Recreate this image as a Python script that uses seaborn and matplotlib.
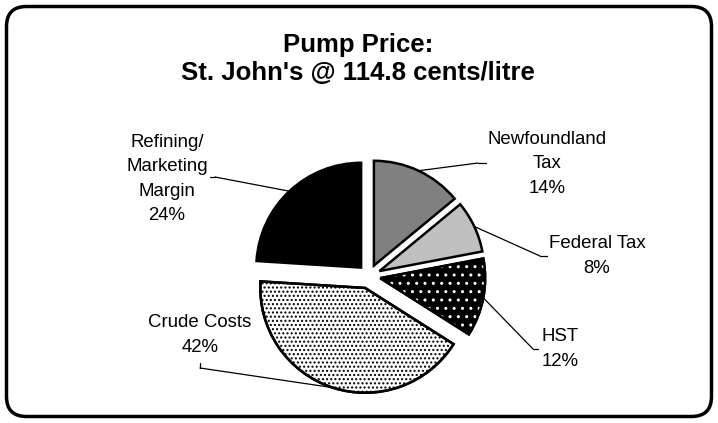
import numpy as np
import seaborn as sns
import matplotlib.pyplot as plt
from matplotlib.patches import Wedge, FancyBboxPatch
from matplotlib.lines import Line2D

# pump price breakdown, clockwise from 12 o'clock
labels = ["Newfoundland\nTax", "Federal Tax", "HST", "Crude Costs", "Refining/\nMarketing\nMargin"]
shares = [14, 8, 12, 42, 24]
face = ["#808080", "#c0c0c0", "black", "white", "black"]
dots = [None, None, "white", "black", None]
hatch = [None, None, "..", "....", None]

sns.set_style("white")
plt.rcParams["font.family"] = ["Liberation Sans", "DejaVu Sans"]
plt.rcParams["text.color"] = "black"

W, H = 718, 423
fig = plt.figure(figsize=(7.18, 4.23), dpi=100)


def fpx(x, y):
    # reference pixel (top-left origin) -> figure fraction
    return x / W, 1 - y / H


# pie axes, centre ~ (369, 276) px, radius ~100 px
S = 262
ax = fig.add_axes([(369 - S / 2) / W, (H - 276 - S / 2) / H, S / W, S / H])
ax.set_xlim(-1.3, 1.3)
ax.set_ylim(-1.3, 1.3)
ax.set_aspect("equal")
ax.axis("off")

explode = [0.11, 0.11, 0.11, 0.12, 0.11]
wedges, _ = ax.pie(shares, explode=explode, startangle=90, counterclock=False,
                   colors=face, wedgeprops=dict(edgecolor="black", linewidth=1.8))

for w, h, dc in zip(wedges, hatch, dots):
    if h is None:
        continue
    ax.add_patch(Wedge(w.center, w.r, w.theta1, w.theta2, facecolor="none",
                       edgecolor=dc, hatch=h, linewidth=0, zorder=3))
    ax.add_patch(Wedge(w.center, w.r, w.theta1, w.theta2, facecolor="none",
                       edgecolor="black", linewidth=1.8, zorder=4))

# label text centres and leader line ends (elbow, tick end) in px
text_pos = [(547, 164), (597, 256), (560, 349), (200, 335), (167, 179)]
elbows = [((478, 163), (486, 163)), ((540, 256), (547, 256)), ((533, 349), (538, 349)),
          ((200, 368), (200, 363)), ((215, 177), (210, 177))]

for w, lab, sh, tp, (e1, e2) in zip(wedges, labels, shares, text_pos, elbows):
    mid = np.deg2rad((w.theta1 + w.theta2) / 2)
    pt = (w.center[0] + w.r * np.cos(mid), w.center[1] + w.r * np.sin(mid))
    ax.annotate("", xy=pt, xycoords="data", xytext=fpx(*e1), textcoords="figure fraction",
                arrowprops=dict(arrowstyle="-", color="black", lw=0.9, shrinkA=0, shrinkB=0))
    fig.add_artist(Line2D([fpx(*e1)[0], fpx(*e2)[0]], [fpx(*e1)[1], fpx(*e2)[1]],
                          transform=fig.transFigure, color="black", lw=0.9))
    fig.text(*fpx(*tp), f"{lab}\n{sh}%", ha="center", va="center",
             fontsize=13.4, linespacing=1.58)

fig.text(*fpx(358, 59), "Pump Price:\nSt. John's @ 114.8 cents/litre", ha="center",
         va="center", fontsize=18.5, fontweight="bold", linespacing=1.2)

# rounded chart border
fig.add_artist(FancyBboxPatch((0.065, 0.065), 7.05, 4.1,
                              boxstyle="round,pad=0,rounding_size=0.2",
                              transform=fig.dpi_scale_trans, facecolor="none",
                              edgecolor="black", linewidth=2.5))

fig.savefig("out.png", dpi=100)
